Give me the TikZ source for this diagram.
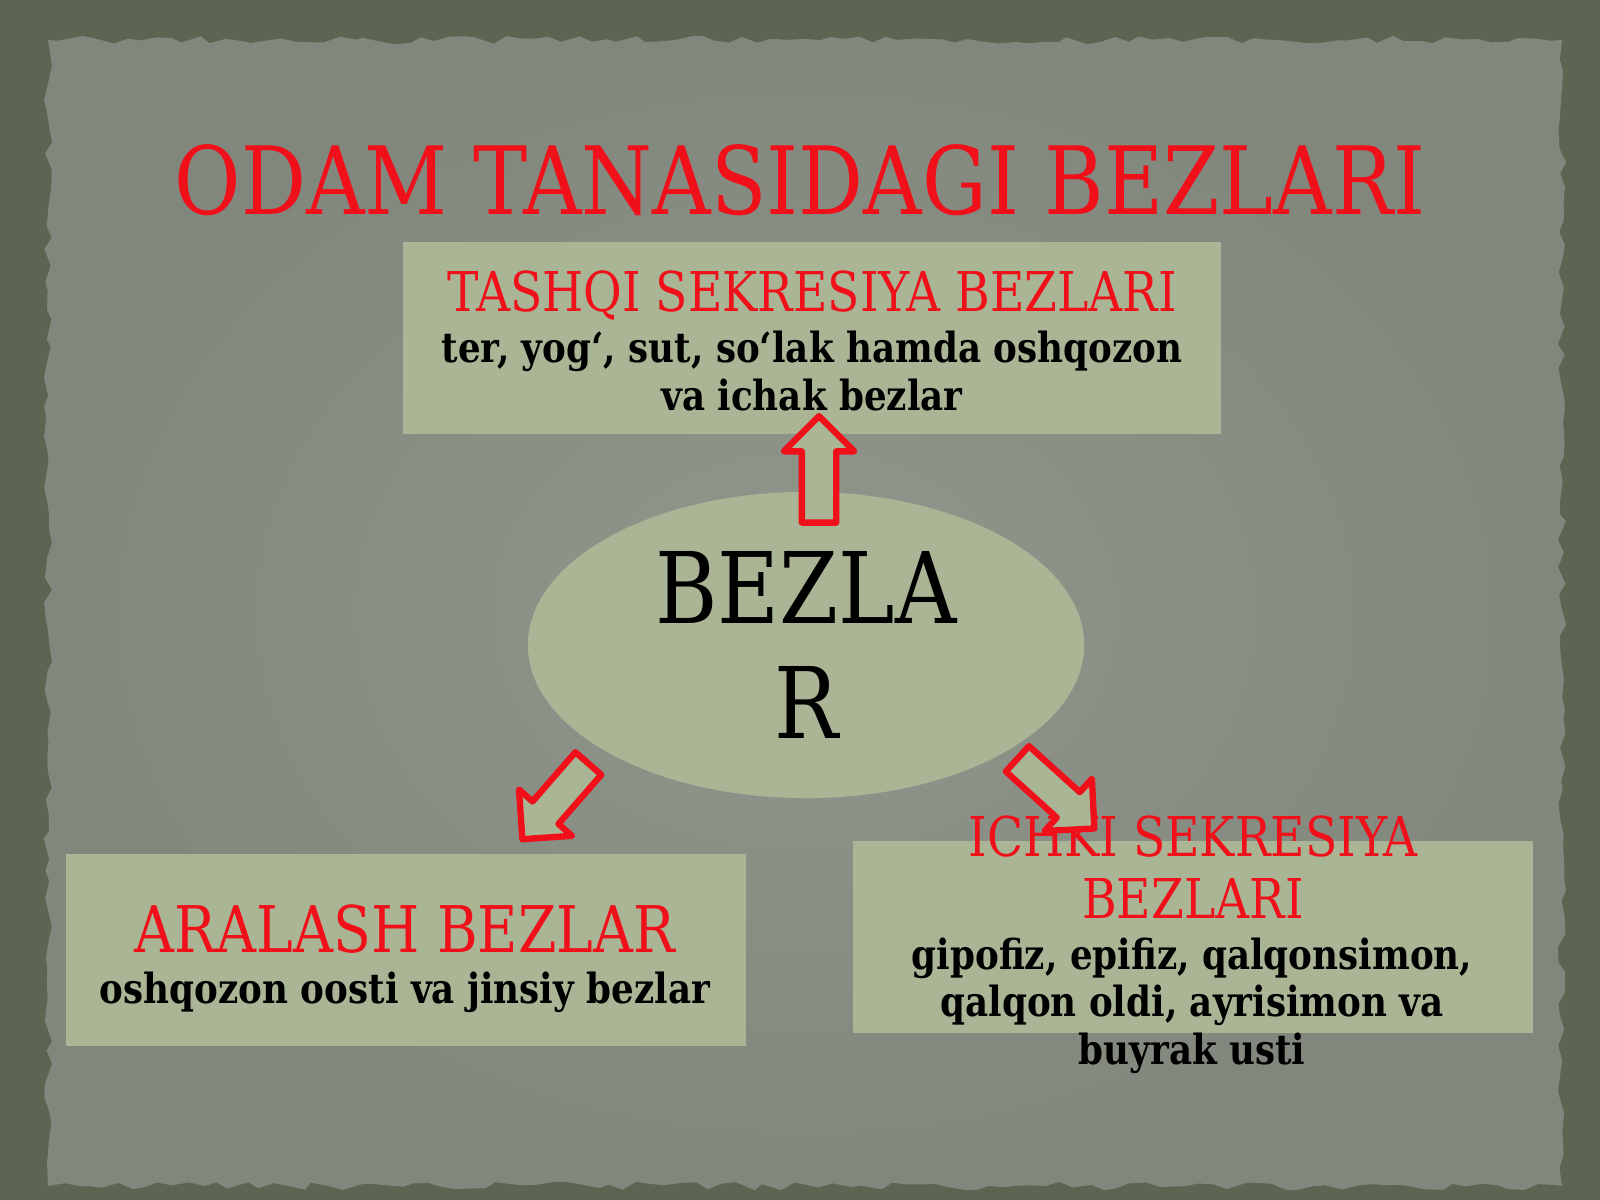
\documentclass[tikz,border=0pt]{standalone}
\usepackage{fontspec}
\setmainfont[FakeStretch=0.86]{DejaVu Serif}
\usetikzlibrary{shapes.geometric,shapes.arrows,decorations.pathmorphing,calc}

\definecolor{olive}{RGB}{93,100,82}
\definecolor{paperL}{RGB}{146,151,142}
\definecolor{paperD}{RGB}{130,135,126}
\definecolor{sage}{RGB}{170,181,150}
\definecolor{bred}{RGB}{240,16,26}

\begin{document}
\begin{tikzpicture}[x=0.01cm,y=-0.01cm,line join=round,
  gbox/.style={fill=sage,inner sep=0pt},
  ttl/.style={text=bred,inner sep=0pt,font=\fontsize{26.8}{30}\selectfont},
  redhead/.style={text=bred,align=center,inner sep=0pt,font=\fontsize{15.6}{17.4}\selectfont},
  blacktxt/.style={text=black,align=center,inner sep=0pt,font=\bfseries\fontsize{11.8}{13.6}\selectfont},
  fatarr/.style={single arrow,draw=bred,fill=sage,line width=1.8pt,inner sep=0pt,
    text height=0.28cm,text depth=0pt,single arrow head extend=0.18cm}]
\useasboundingbox (0,0) rectangle (1600,1200);

% background and torn paper
\pgfmathsetseed{12}
\fill[olive] (0,0) rectangle (1600,1200);
\shade[inner color=paperL,outer color=paperD,decorate,
  decoration={random steps,segment length=4pt,amplitude=1.2pt}]
  (48,40) rectangle (1562,1186);

\node[ttl,anchor=base] (title) at (800,214) {ODAM TANASIDAGI BEZLARI};

% boxes
\node[gbox,minimum width=8.18cm,minimum height=1.92cm] (tashqi) at (812,338) {};
\node[gbox,minimum width=6.80cm,minimum height=1.91cm] (aralash) at (406,950) {};
\node[gbox,minimum width=6.79cm,minimum height=1.91cm] (ichki) at (1193,937) {};
\node[ellipse,fill=sage,inner sep=0pt,minimum width=5.56cm,minimum height=3.06cm,
  align=center,font=\fontsize{28.1}{32.6}\selectfont] (bez) at (806,645) {BEZLA\\R};

% texts (base = last line)
\node[redhead,anchor=base] (tashqiH) at (812,311) {TASHQI SEKRESIYA BEZLARI};
\node[blacktxt,anchor=base] (tashqiB) at (812,410) {ter, yog‘, sut, so‘lak hamda oshqozon\\va ichak bezlar};
\node[redhead,anchor=base,font=\fontsize{18.3}{21}\selectfont] (aralashH) at (405,952) {ARALASH BEZLAR};
\node[blacktxt,anchor=base] (aralashB) at (405,1003) {oshqozon oosti va jinsiy bezlar};
\node[redhead,anchor=base] (ichkiH) at (1193,918) {ICHKI SEKRESIYA\\BEZLARI};
\node[blacktxt,anchor=base,font=\bfseries\fontsize{11.8}{13.4}\selectfont] (ichkiB) at (1192,1064) {gipofiz, epifiz, qalqonsimon,\\qalqon oldi, ayrisimon va\\buyrak usti};

% block arrows
\coordinate (upT) at ($(bez.north)+(13,40)$);
\coordinate (upH) at ($(tashqi.south)+(7,-10)$);
\coordinate (llT) at ($(bez.center)+(-212,112)$);
\coordinate (llH) at ($(aralash.north)+(122,-21)$);
\coordinate (lrT) at ($(bez.center)+(205,108)$);
\coordinate (lrH) at ($(ichki.north)+(-105,-18)$);
\path let \p1=(upT), \p2=(upH), \n1={atan2(\y2-\y1,\x2-\x1)}, \n2={veclen(\x2-\x1,\y2-\y1)} in
  node[fatarr,rotate=\n1,minimum height=\n2] (uparr) at ($(upT)!0.5!(upH)$) {};
\path let \p1=(llT), \p2=(llH), \n1={atan2(\y2-\y1,\x2-\x1)}, \n2={veclen(\x2-\x1,\y2-\y1)} in
  node[fatarr,rotate=\n1,minimum height=\n2] (llarr) at ($(llT)!0.5!(llH)$) {};
\path let \p1=(lrT), \p2=(lrH), \n1={atan2(\y2-\y1,\x2-\x1)}, \n2={veclen(\x2-\x1,\y2-\y1)} in
  node[fatarr,rotate=\n1,minimum height=\n2] (lrarr) at ($(lrT)!0.5!(lrH)$) {};
\end{tikzpicture}
\end{document}
